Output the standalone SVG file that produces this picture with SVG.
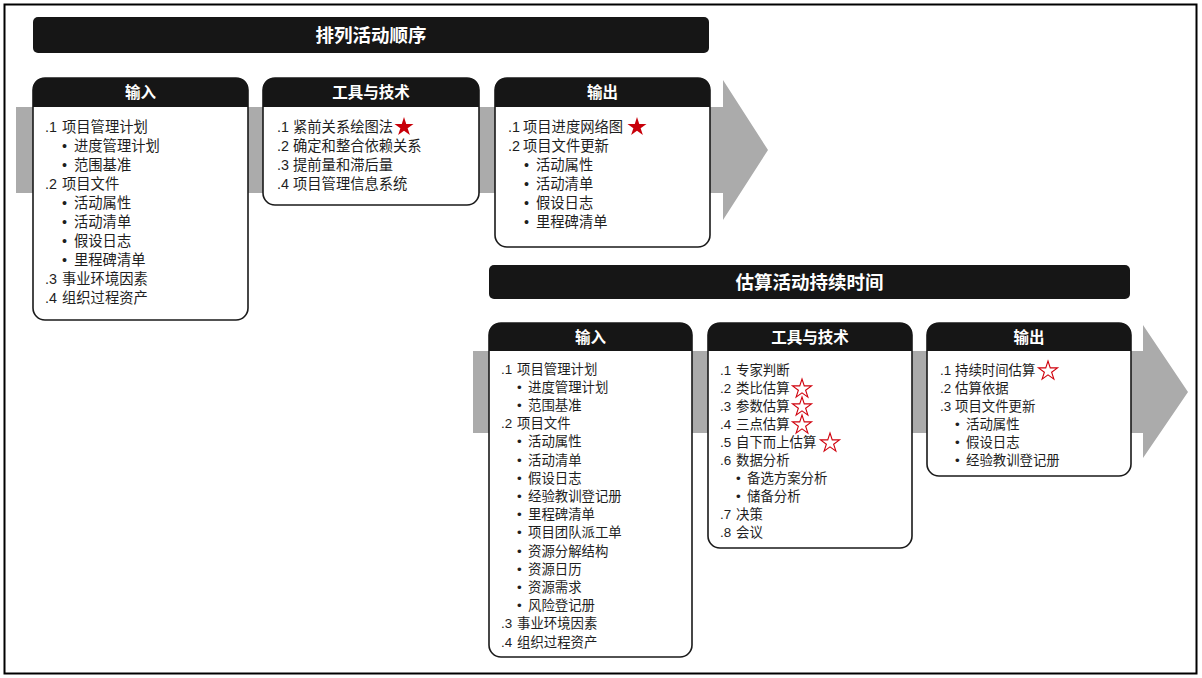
<svg xmlns="http://www.w3.org/2000/svg" width="1202" height="678" viewBox="0 0 1202 678">
<style>
text{font-family:"Liberation Sans","Noto Sans CJK SC",sans-serif;fill:#1e1e1e}
.t1{font-size:14.3px}
.t2{font-size:13.4px}
.hd{font-size:15.5px;font-weight:bold;fill:#fff;text-anchor:middle;font-family:"Noto Sans CJK SC",sans-serif}
.ttl{font-size:18.5px;font-weight:bold;fill:#fff;text-anchor:middle;font-family:"Noto Sans CJK SC",sans-serif}
.box{fill:#fff;stroke:#1a1a1a;stroke-width:1.6}
.hbar{fill:#161616}
.band{fill:#ababab}
.sf{fill:#c8000a}
.so{fill:#fff;stroke:#d0000c;stroke-width:1.1}
</style>
<defs>
<polygon id="star" points="0,-10 2.25,-3.09 9.51,-3.09 3.63,1.18 5.88,8.09 0,3.82 -5.88,8.09 -3.63,1.18 -9.51,-3.09 -2.25,-3.09"/>
</defs>
<rect x="4.5" y="4.5" width="1192" height="669" fill="#fff" stroke="#000" stroke-width="2"/>

<g id="connectors">
<polygon class="band" points="16,107 723,107 723,80 768,150 723,220 723,193 16,193"/>
<polygon class="band" points="473,351 1143,351 1143,325 1188,392 1143,458 1143,433 473,433"/>
</g>

<g id="title1">
<rect class="hbar" x="33" y="17" width="676" height="36" rx="5"/>
<text class="ttl" x="371" y="41.5">排列活动顺序</text>
</g>

<g id="seq-input">
<rect class="box" x="33" y="78" width="215" height="242" rx="12"/>
<path class="hbar" d="M33,107 V90 Q33,78 45,78 H236 Q248,78 248,90 V107 Z"/>
<text class="hd" x="140.5" y="98">输入</text>
<g class="t1">
<text y="132"><tspan x="45">.1</tspan><tspan x="62">项目管理计划</tspan></text>
<text y="151"><tspan x="62">•</tspan><tspan x="74">进度管理计划</tspan></text>
<text y="170"><tspan x="62">•</tspan><tspan x="74">范围基准</tspan></text>
<text y="189"><tspan x="45">.2</tspan><tspan x="62">项目文件</tspan></text>
<text y="208"><tspan x="62">•</tspan><tspan x="74">活动属性</tspan></text>
<text y="227"><tspan x="62">•</tspan><tspan x="74">活动清单</tspan></text>
<text y="246"><tspan x="62">•</tspan><tspan x="74">假设日志</tspan></text>
<text y="265"><tspan x="62">•</tspan><tspan x="74">里程碑清单</tspan></text>
<text y="284"><tspan x="45">.3</tspan><tspan x="62">事业环境因素</tspan></text>
<text y="303"><tspan x="45">.4</tspan><tspan x="62">组织过程资产</tspan></text>
</g>
</g>

<g id="seq-tools">
<rect class="box" x="263" y="78" width="216" height="127" rx="12"/>
<path class="hbar" d="M263,107 V90 Q263,78 275,78 H467 Q479,78 479,90 V107 Z"/>
<text class="hd" x="371" y="98">工具与技术</text>
<g class="t1">
<text y="132"><tspan x="277">.1</tspan><tspan x="293">紧前关系绘图法</tspan></text>
<text y="151"><tspan x="277">.2</tspan><tspan x="293">确定和整合依赖关系</tspan></text>
<text y="170"><tspan x="277">.3</tspan><tspan x="293">提前量和滞后量</tspan></text>
<text y="189"><tspan x="277">.4</tspan><tspan x="293">项目管理信息系统</tspan></text>
</g>
<use href="#star" class="sf" x="404" y="127"/>
</g>

<g id="seq-output">
<rect class="box" x="495" y="78" width="215" height="169" rx="12"/>
<path class="hbar" d="M495,107 V90 Q495,78 507,78 H698 Q710,78 710,90 V107 Z"/>
<text class="hd" x="602.5" y="98">输出</text>
<g class="t1">
<text y="132"><tspan x="508">.1</tspan><tspan x="523">项目进度网络图</tspan></text>
<text y="151"><tspan x="508">.2</tspan><tspan x="523">项目文件更新</tspan></text>
<text y="170"><tspan x="524">•</tspan><tspan x="536">活动属性</tspan></text>
<text y="189"><tspan x="524">•</tspan><tspan x="536">活动清单</tspan></text>
<text y="208"><tspan x="524">•</tspan><tspan x="536">假设日志</tspan></text>
<text y="227"><tspan x="524">•</tspan><tspan x="536">里程碑清单</tspan></text>
</g>
<use href="#star" class="sf" x="637" y="127"/>
</g>

<g id="title2">
<rect class="hbar" x="489" y="265" width="641" height="34" rx="5"/>
<text class="ttl" x="809.5" y="288.5">估算活动持续时间</text>
</g>

<g id="est-input">
<rect class="box" x="489" y="323" width="203" height="334" rx="12"/>
<path class="hbar" d="M489,351 V335 Q489,323 501,323 H680 Q692,323 692,335 V351 Z"/>
<text class="hd" x="590.5" y="342.5">输入</text>
<g class="t2">
<text y="373.5"><tspan x="501">.1</tspan><tspan x="517">项目管理计划</tspan></text>
<text y="391.7"><tspan x="517">•</tspan><tspan x="528">进度管理计划</tspan></text>
<text y="409.9"><tspan x="517">•</tspan><tspan x="528">范围基准</tspan></text>
<text y="428.1"><tspan x="501">.2</tspan><tspan x="517">项目文件</tspan></text>
<text y="446.3"><tspan x="517">•</tspan><tspan x="528">活动属性</tspan></text>
<text y="464.5"><tspan x="517">•</tspan><tspan x="528">活动清单</tspan></text>
<text y="482.7"><tspan x="517">•</tspan><tspan x="528">假设日志</tspan></text>
<text y="500.9"><tspan x="517">•</tspan><tspan x="528">经验教训登记册</tspan></text>
<text y="519.1"><tspan x="517">•</tspan><tspan x="528">里程碑清单</tspan></text>
<text y="537.3"><tspan x="517">•</tspan><tspan x="528">项目团队派工单</tspan></text>
<text y="555.5"><tspan x="517">•</tspan><tspan x="528">资源分解结构</tspan></text>
<text y="573.7"><tspan x="517">•</tspan><tspan x="528">资源日历</tspan></text>
<text y="591.9"><tspan x="517">•</tspan><tspan x="528">资源需求</tspan></text>
<text y="610.1"><tspan x="517">•</tspan><tspan x="528">风险登记册</tspan></text>
<text y="628.3"><tspan x="501">.3</tspan><tspan x="517">事业环境因素</tspan></text>
<text y="646.5"><tspan x="501">.4</tspan><tspan x="517">组织过程资产</tspan></text>
</g>
</g>

<g id="est-tools">
<rect class="box" x="708" y="323" width="204" height="225" rx="12"/>
<path class="hbar" d="M708,351 V335 Q708,323 720,323 H900 Q912,323 912,335 V351 Z"/>
<text class="hd" x="810" y="342.5">工具与技术</text>
<g class="t2">
<text y="374.5"><tspan x="720">.1</tspan><tspan x="736">专家判断</tspan></text>
<text y="392.6"><tspan x="720">.2</tspan><tspan x="736">类比估算</tspan></text>
<text y="410.7"><tspan x="720">.3</tspan><tspan x="736">参数估算</tspan></text>
<text y="428.8"><tspan x="720">.4</tspan><tspan x="736">三点估算</tspan></text>
<text y="446.9"><tspan x="720">.5</tspan><tspan x="736">自下而上估算</tspan></text>
<text y="465"><tspan x="720">.6</tspan><tspan x="736">数据分析</tspan></text>
<text y="483.1"><tspan x="736">•</tspan><tspan x="747">备选方案分析</tspan></text>
<text y="501.2"><tspan x="736">•</tspan><tspan x="747">储备分析</tspan></text>
<text y="519.3"><tspan x="720">.7</tspan><tspan x="736">决策</tspan></text>
<text y="537.4"><tspan x="720">.8</tspan><tspan x="736">会议</tspan></text>
</g>
<use href="#star" class="so" x="802" y="389"/>
<use href="#star" class="so" x="802" y="407"/>
<use href="#star" class="so" x="802" y="425"/>
<use href="#star" class="so" x="830" y="443"/>
</g>

<g id="est-output">
<rect class="box" x="927" y="323" width="204" height="153" rx="12"/>
<path class="hbar" d="M927,351 V335 Q927,323 939,323 H1119 Q1131,323 1131,335 V351 Z"/>
<text class="hd" x="1029" y="342.5">输出</text>
<g class="t2">
<text y="374.5"><tspan x="940">.1</tspan><tspan x="955">持续时间估算</tspan></text>
<text y="392.6"><tspan x="940">.2</tspan><tspan x="955">估算依据</tspan></text>
<text y="410.7"><tspan x="940">.3</tspan><tspan x="955">项目文件更新</tspan></text>
<text y="428.8"><tspan x="955">•</tspan><tspan x="966">活动属性</tspan></text>
<text y="446.9"><tspan x="955">•</tspan><tspan x="966">假设日志</tspan></text>
<text y="465"><tspan x="955">•</tspan><tspan x="966">经验教训登记册</tspan></text>
</g>
<use href="#star" class="so" x="1048" y="371"/>
</g>
</svg>
